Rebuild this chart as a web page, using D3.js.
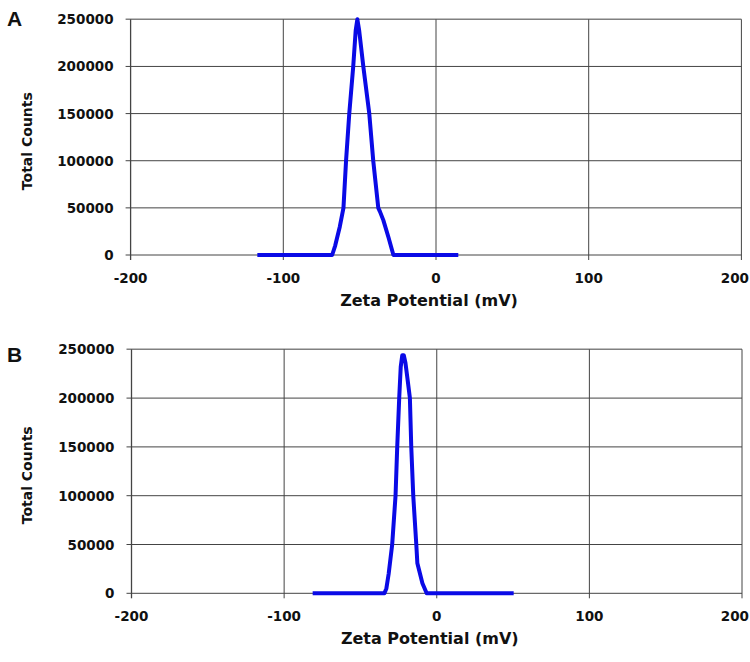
<!DOCTYPE html>
<html><head><meta charset="utf-8">
<script src="https://cdn.jsdelivr.net/npm/d3@7"></script>
<style>body{margin:0;background:#fff}svg{display:block}text{font-family:"DejaVu Sans",sans-serif;font-weight:bold;fill:#111}</style>
</head><body><svg id="c" width="750" height="662"></svg>
<script>
const xTicks = [-200, -100, 0, 100, 200];
const yTicks = [0, 50000, 100000, 150000, 200000, 250000];
const panelLabels = ["A", "B"];
const xTitle = "Zeta Potential (mV)";
const yTitle = "Total Counts";

const seriesA_x = [-117, -68, -66, -63, -60.6, -58.9, -56.8, -54.2, -52.6, -51.5, -50.3, -47.6, -43.7, -41.1, -37.8, -36.7, -34.5, -31, -27.9, 14.6];
const seriesA_y = [0, 0, 10000, 30000, 50000, 100000, 150000, 200000, 238000, 250000, 238000, 200000, 150000, 100000, 50000, 46000, 37000, 18000, 0, 0];

const seriesB_x = [-81.3, -34.3, -33, -31.5, -29.2, -27.0, -25.9, -24.6, -23.6, -22.6, -21.6, -20.5, -19.2, -17.6, -16.7, -15.4, -13.4, -12.7, -9.4, -6.6, 50.4];
const seriesB_y = [0, 0, 5000, 20000, 50000, 100000, 150000, 200000, 232000, 244000, 244000, 236000, 220000, 200000, 150000, 100000, 50000, 30700, 10250, 0, 0];

const panels = [
  {label: panelLabels[0], xs: seriesA_x, ys: seriesA_y, left: 130.6, right: 741.4, top: 19.3, bottom: 255, ly: 26},
  {label: panelLabels[1], xs: seriesB_x, ys: seriesB_y, left: 131.5, right: 742, top: 349.3, bottom: 593.3, ly: 362}
];

const svg = d3.select("#c");
panels.forEach(p => {
  const g = svg.append("g");
  const x = d3.scaleLinear().domain([-200, 200]).range([p.left, p.right]);
  const y = d3.scaleLinear().domain([0, 250000]).range([p.bottom, p.top]);
  g.selectAll(".hg").data(yTicks).join("line")
    .attr("x1", p.left - 5).attr("x2", p.right).attr("y1", d => y(d)).attr("y2", d => y(d))
    .attr("stroke", d => d === 250000 ? "#808080" : "#444").attr("stroke-width", d => d === 250000 ? 1.6 : 1);
  g.selectAll(".vg").data(xTicks).join("line")
    .attr("x1", d => x(d)).attr("x2", d => x(d)).attr("y1", p.top).attr("y2", p.bottom + 5)
    .attr("stroke", "#444").attr("stroke-width", d => d === -200 ? 1.3 : 1);
  g.selectAll(".yl").data(yTicks).join("text")
    .attr("x", p.left - 17).attr("y", d => y(d) + 5).attr("text-anchor", "end")
    .attr("font-size", 13.5).text(d => d);
  g.selectAll(".xl").data(xTicks).join("text")
    .attr("x", (d, i) => i === xTicks.length - 1 ? 749 : x(d))
    .attr("y", p.bottom + 28)
    .attr("text-anchor", (d, i) => i === xTicks.length - 1 ? "end" : "middle")
    .attr("font-size", 13.5).text(d => d);
  g.append("text").attr("x", (p.left + p.right) / 2 - 7).attr("y", p.bottom + 51).attr("text-anchor", "middle")
    .attr("font-size", 16).text(xTitle);
  g.append("text").attr("transform", `translate(32,${(p.top + p.bottom) / 2 + 4}) rotate(-90)`)
    .attr("text-anchor", "middle").attr("font-size", 14).text(yTitle);
  g.append("text").attr("x", 7).attr("y", p.ly).attr("font-size", 21)
    .style("font-family", "'Liberation Sans',Arial,sans-serif").text(p.label);
  const pts = p.xs.map((v, i) => [v, p.ys[i]]);
  g.append("path").datum(pts)
    .attr("d", d3.line().x(d => x(d[0])).y(d => y(d[1])))
    .attr("fill", "none").attr("stroke", "#0a0ae6").attr("stroke-width", 4)
    .attr("stroke-linejoin", "round");
});
</script></body></html>
